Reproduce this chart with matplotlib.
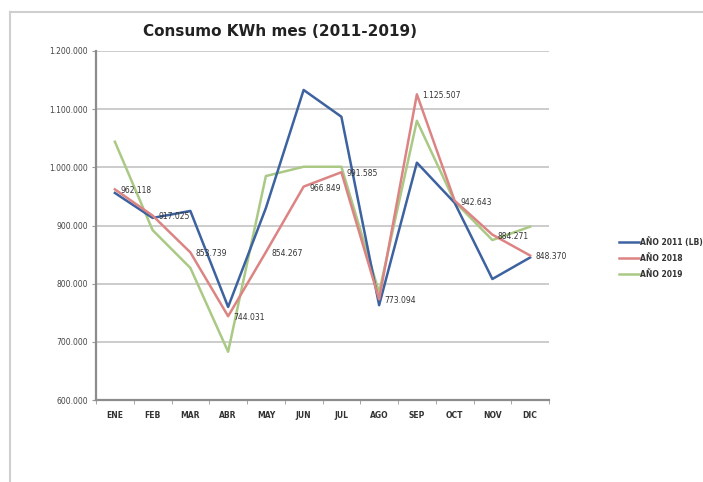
import matplotlib
matplotlib.use("Agg")
import matplotlib.pyplot as plt
from matplotlib.lines import Line2D

# datos
meses = ["ENE", "FEB", "MAR", "ABR", "MAY", "JUN", "JUL", "AGO", "SEP", "OCT", "NOV", "DIC"]
anio_2011 = [956000, 913000, 925000, 760000, 930000, 1133000, 1087000, 763000, 1008000, 939000, 808000, 845000]
anio_2018 = [962118, 917025, 853739, 744031, 854267, 966849, 991585, 773094, 1125507, 942643, 884271, 848370]
anio_2019 = [1044000, 892000, 827000, 683000, 985000, 1001000, 1001000, 785000, 1080000, 941000, 875000, 898000]
etiquetas_y = [600000, 700000, 800000, 900000, 1000000, 1100000, 1200000]


def punto_miles(v):
    return format(int(v), ",").replace(",", ".")


fig = plt.figure(figsize=(7.03, 4.82), dpi=100)
fig.patch.set_facecolor("white")

# marco del grafico (borde gris claro)
fig.add_artist(Line2D([10 / 703, 10 / 703], [0, 1 - 12 / 482], color="#cfcfcf", lw=1.5))
fig.add_artist(Line2D([10 / 703, 1], [1 - 12 / 482, 1 - 12 / 482], color="#cfcfcf", lw=1.5))

ax = fig.add_axes([96 / 703, 1 - 400 / 482, 453 / 703, 349 / 482])

x = list(range(len(meses)))
ax.plot(x, anio_2011, color="#3d62a0", lw=1.8, label="AÑO 2011 (LB)", zorder=3)
ax.plot(x, anio_2018, color="#dc8483", lw=1.8, label="AÑO 2018", zorder=4)
ax.plot(x, anio_2019, color="#aac985", lw=1.8, label="AÑO 2019", zorder=2)

for i, v in enumerate(anio_2018):
    ax.annotate(punto_miles(v), (i, v), xytext=(4, -1), textcoords="offset points",
                ha="left", va="center", fontsize=5.5, color="#333333", zorder=5)

ax.set_xlim(-0.5, len(meses) - 0.5)
ax.set_ylim(etiquetas_y[0], etiquetas_y[-1])
ax.set_yticks(etiquetas_y)
ax.set_yticklabels([punto_miles(v) for v in etiquetas_y], fontsize=5.5, color="#444444")
ax.set_xticks(x)
ax.set_xticklabels(meses, fontsize=5.5, fontweight="bold", color="#333333")
ax.set_xticks([i - 0.5 for i in range(len(meses) + 1)], minor=True)
ax.tick_params(axis="x", which="major", length=0, pad=8)
ax.tick_params(axis="x", which="minor", length=3, color="#999999", direction="out")
ax.tick_params(axis="y", length=3, color="#999999", pad=3)

ax.grid(axis="y", color="#c4c4c4", lw=1.2)
ax.set_axisbelow(True)
for s in ["top", "right"]:
    ax.spines[s].set_visible(False)
for s in ["left", "bottom"]:
    ax.spines[s].set_color("#8c8c8c")
    ax.spines[s].set_linewidth(1.6)

fig.text(280 / 703, 1 - 32 / 482, "Consumo KWh mes (2011-2019)", ha="center", va="center",
         fontsize=11, fontweight="bold", color="#222222")

leg = fig.legend(loc="upper left", bbox_to_anchor=(619 / 703, 1 - 237 / 482), frameon=False,
                 fontsize=5.5, handlelength=2.6, handletextpad=0.2, labelspacing=0.9,
                 borderaxespad=0, borderpad=0)
for t in leg.get_texts():
    t.set_fontweight("bold")
    t.set_color("#333333")

fig.savefig("out.png", dpi=100)
